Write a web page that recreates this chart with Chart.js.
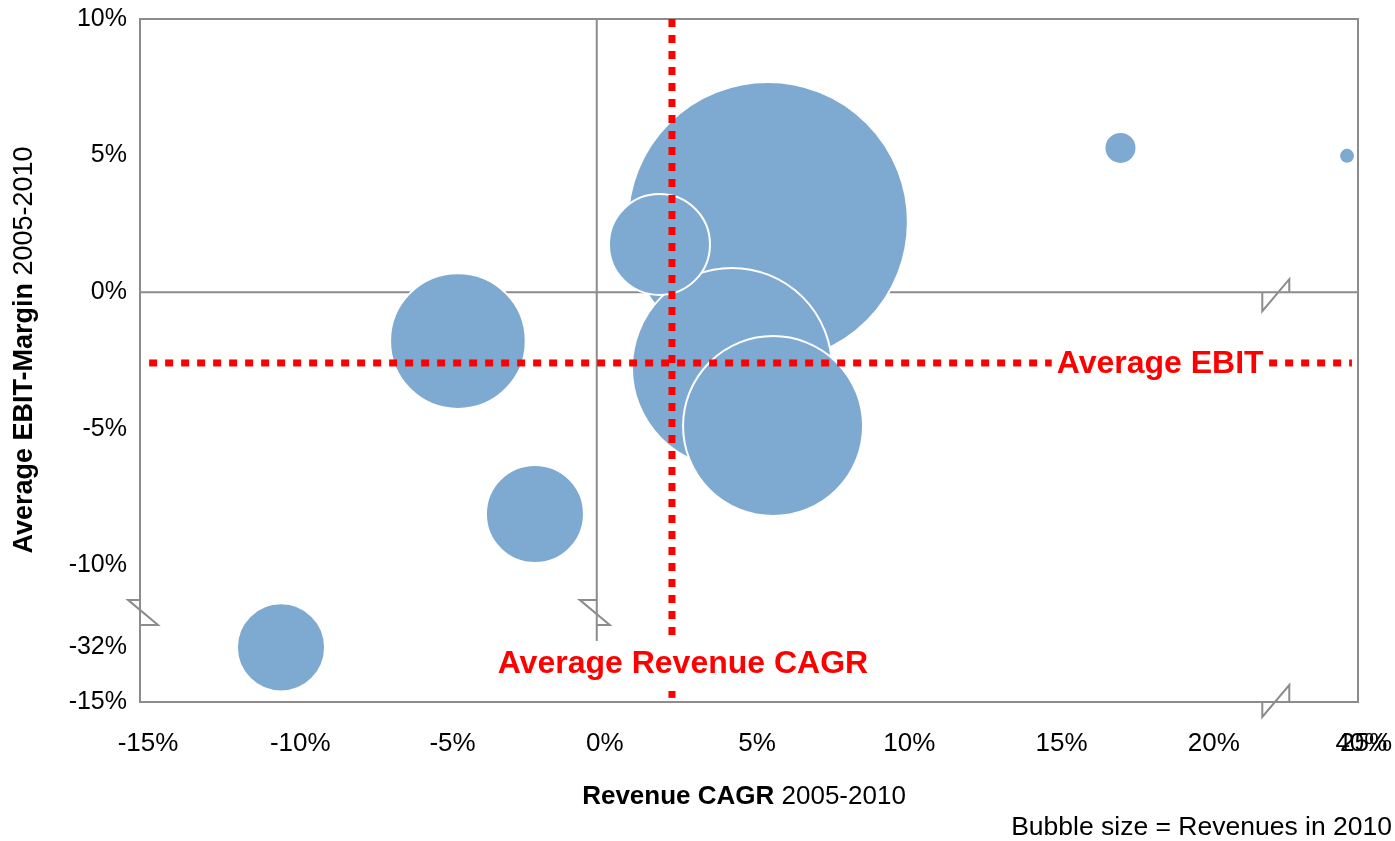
<!DOCTYPE html>
<html>
<head>
<meta charset="utf-8">
<script src="https://cdn.jsdelivr.net/npm/chart.js@4/dist/chart.umd.min.js"></script>
<style>
  html, body { margin: 0; padding: 0; background: #fff; }
  #wrap { width: 1395px; height: 841px; position: relative; }
</style>
</head>
<body>
<div id="wrap"><canvas id="bubbleChart"></canvas></div>
<script>
// values (percent)
const revenueCagr = [5.62, 4.44, 2.06, 5.79, -4.56, -2.03, -10.37, 17.2, 24.64];
const ebitMargin  = [2.57, -2.77, 1.75, -4.9, -1.79, -8.12, -13.0, 5.28, 4.99];
const revenues2010 = [196, 100, 25.5, 81, 46, 24, 19.4, 2.56, 0.64];

const avgRevenueCagr = 2.47;
const avgEbitMargin = -2.59;
const ebitLineSpan = [-14.7, 24.8];
const cagrLineSpan = [10, -14.85];

const xTickValues = [-15, -10, -5, 0, 5, 10, 15, 20, 24.85, 25];
const xTickLabels = ['-15%', '-10%', '-5%', '0%', '5%', '10%', '15%', '20%', '40%', '25%'];
const yTickValues = [10, 5, 0, -5, -10, -13, -15];
const yTickLabels = ['10%', '5%', '0%', '-5%', '-10%', '-32%', '-15%'];

const zeroLineEnd = -12.85;   // vertical 0% line stops above the axis
const yBreakAt = -11.72;
const xBreakAt = 22.3;

const FONT = '"Liberation Sans", Arial, sans-serif';
const GRAY = '#8c8c8c';
const BUBBLE = '#7eaad2';
const MAX_R = 140;

let maxRev = Math.max(...revenues2010);
let bubbles = [];
for (let i = 0; i < revenueCagr.length; i += 1) {
    bubbles.push({
        x: revenueCagr[i],
        y: ebitMargin[i],
        r: MAX_R * Math.sqrt(revenues2010[i] / maxRev)
    });
}

function boldNormal(ctx, bold, normal, size) {
    ctx.font = 'bold ' + size + 'px ' + FONT;
    let wb = ctx.measureText(bold).width;
    ctx.font = size + 'px ' + FONT;
    let wn = ctx.measureText(normal).width;
    return [wb, wn];
}

function noPad(s) {
    s.paddingLeft = 0;
    s.paddingRight = 0;
    s.paddingTop = 0;
    s.paddingBottom = 0;
}

const decor = {
    id: 'decor',
    beforeDatasetsDraw(chart) {
        const {ctx, chartArea: a, scales: {x, y}} = chart;
        ctx.save();
        ctx.strokeStyle = GRAY;
        ctx.lineWidth = 2;
        ctx.strokeRect(a.left, a.top, a.right - a.left, a.bottom - a.top);
        let y0 = y.getPixelForValue(0);
        let x0 = x.getPixelForValue(0);
        ctx.beginPath();
        ctx.moveTo(a.left, y0);
        ctx.lineTo(a.right, y0);
        ctx.moveTo(x0, a.top);
        ctx.lineTo(x0, y.getPixelForValue(zeroLineEnd));
        ctx.stroke();
        ctx.restore();
    },
    afterDatasetsDraw(chart) {
        const {ctx, chartArea: a, scales: {x, y}} = chart;
        ctx.save();
        // axis break marks
        ctx.strokeStyle = GRAY;
        ctx.lineWidth = 2;
        let yc = y.getPixelForValue(yBreakAt);
        let x0 = x.getPixelForValue(0);
        let y0 = y.getPixelForValue(0);
        let xc = x.getPixelForValue(xBreakAt);
        ctx.beginPath();
        ctx.moveTo(a.left, yc - 12.5);
        ctx.lineTo(a.left - 12, yc - 12.5);
        ctx.lineTo(a.left + 18, yc + 12.5);
        ctx.lineTo(a.left, yc + 12.5);
        ctx.moveTo(x0, yc - 12.5);
        ctx.lineTo(x0 - 17, yc - 12.5);
        ctx.lineTo(x0 + 13, yc + 12.5);
        ctx.lineTo(x0, yc + 12.5);
        ctx.moveTo(xc - 13.5, a.bottom);
        ctx.lineTo(xc - 13.5, a.bottom + 15);
        ctx.lineTo(xc + 13.5, a.bottom - 17);
        ctx.lineTo(xc + 13.5, a.bottom);
        ctx.moveTo(xc - 13.5, y0);
        ctx.lineTo(xc - 13.5, y0 + 19);
        ctx.lineTo(xc + 13.5, y0 - 13);
        ctx.lineTo(xc + 13.5, y0);
        ctx.stroke();

        // average labels
        ctx.font = 'bold 32px ' + FONT;
        ctx.textBaseline = 'middle';
        let t1 = 'Average EBIT';
        let w1 = ctx.measureText(t1).width;
        let ex = x.getPixelForValue(21.9);
        let ey = y.getPixelForValue(avgEbitMargin);
        ctx.fillStyle = '#fff';
        ctx.fillRect(ex - w1 - 5, ey - 18, w1 + 10, 36);
        ctx.fillStyle = '#ff0000';
        ctx.textAlign = 'right';
        ctx.fillText(t1, ex, ey + 1);

        let t2 = 'Average Revenue CAGR';
        let w2 = ctx.measureText(t2).width;
        let cx = x.getPixelForValue(2.83);
        let cy = y.getPixelForValue(-13.57);
        ctx.fillStyle = '#fff';
        ctx.fillRect(cx - w2 / 2 - 5, cy - 22, w2 + 10, 44);
        ctx.fillStyle = '#ff0000';
        ctx.textAlign = 'center';
        ctx.fillText(t2, cx, cy + 1);
        ctx.restore();
    },
    afterDraw(chart) {
        const {ctx} = chart;
        ctx.save();
        ctx.fillStyle = '#000';
        ctx.textBaseline = 'middle';
        ctx.textAlign = 'left';
        // x title
        let [wb, wn] = boldNormal(ctx, 'Revenue CAGR', ' 2005-2010', 26);
        let sx = 744 - (wb + wn) / 2;
        ctx.font = 'bold 26px ' + FONT;
        ctx.fillText('Revenue CAGR', sx, 797);
        ctx.font = '26px ' + FONT;
        ctx.fillText(' 2005-2010', sx + wb, 797);
        // y title
        [wb, wn] = boldNormal(ctx, 'Average EBIT-Margin', ' 2005-2010', 27);
        ctx.translate(25, 350);
        ctx.rotate(-Math.PI / 2);
        sx = -(wb + wn) / 2;
        ctx.font = 'bold 27px ' + FONT;
        ctx.fillText('Average EBIT-Margin', sx, 0);
        ctx.font = '27px ' + FONT;
        ctx.fillText(' 2005-2010', sx + wb, 0);
        ctx.setTransform(1, 0, 0, 1, 0, 0);
        // note
        ctx.font = '26.5px ' + FONT;
        ctx.textAlign = 'right';
        ctx.fillText('Bubble size = Revenues in 2010', 1392, 828);
        ctx.restore();
    }
};

var ctx = document.getElementById('bubbleChart').getContext('2d');
window.bubbleChart = new Chart(ctx, {
    type: 'bubble',
    data: {
        datasets: [{
            type: 'line',
            label: 'Average EBIT',
            data: [{x: ebitLineSpan[0], y: avgEbitMargin}, {x: ebitLineSpan[1], y: avgEbitMargin}],
            borderColor: '#ff0000',
            borderWidth: 7,
            borderDash: [8, 8],
            pointRadius: 0,
            order: 0,
            clip: false
        }, {
            type: 'line',
            label: 'Average Revenue CAGR',
            data: [{x: avgRevenueCagr, y: cagrLineSpan[0]}, {x: avgRevenueCagr, y: cagrLineSpan[1]}],
            borderColor: '#ff0000',
            borderWidth: 7,
            borderDash: [8, 8],
            pointRadius: 0,
            order: 0,
            clip: false
        }, {
            label: 'Companies',
            data: bubbles,
            backgroundColor: BUBBLE,
            borderColor: '#ffffff',
            borderWidth: 2,
            hoverRadius: 0,
            order: 1,
            clip: false
        }]
    },
    options: {
        responsive: true,
        maintainAspectRatio: false,
        animation: false,
        events: [],
        layout: {
            autoPadding: false,
            padding: {left: 0, right: 37, top: 19, bottom: 0}
        },
        plugins: {
            legend: {display: false},
            tooltip: {enabled: false}
        },
        scales: {
            x: {
                type: 'linear',
                min: -15,
                max: 25,
                afterFit: (s) => { s.height = 139; noPad(s); },
                afterBuildTicks: (s) => { s.ticks = xTickValues.map(v => ({value: v})); },
                grid: {display: false, drawTicks: false},
                border: {display: false},
                ticks: {
                    autoSkip: false,
                    maxRotation: 0,
                    padding: 26,
                    labelOffset: 8,
                    color: '#000',
                    font: {family: FONT, size: 26},
                    callback: (v, i) => xTickLabels[i]
                }
            },
            y: {
                type: 'linear',
                min: -15,
                max: 10,
                afterFit: (s) => { s.width = 140; noPad(s); },
                afterBuildTicks: (s) => { s.ticks = yTickValues.map(v => ({value: v})); },
                grid: {display: false, drawTicks: false},
                border: {display: false},
                ticks: {
                    autoSkip: false,
                    padding: 13,
                    color: '#000',
                    font: {family: FONT, size: 25},
                    callback: (v, i) => yTickLabels[i]
                }
            }
        }
    },
    plugins: [decor]
});
</script>
</body>
</html>
